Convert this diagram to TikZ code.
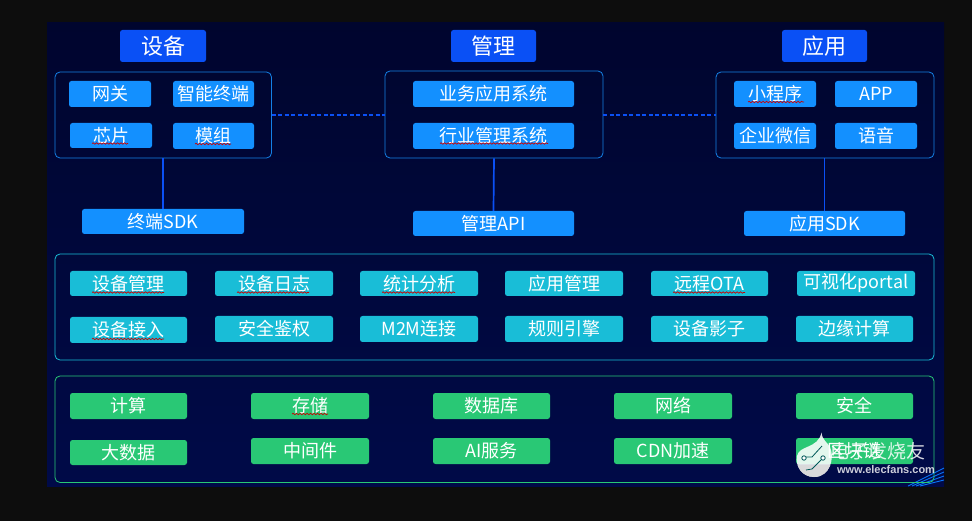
\documentclass[tikz,border=0pt]{standalone}
\usepackage{fontspec}
\setmainfont{Noto Sans CJK SC}[Scale=1]
\newfontfamily\latinf{Liberation Sans}
\usetikzlibrary{decorations.pathmorphing}
\definecolor{pagebg}{HTML}{0D0D0D}
\definecolor{paneltop}{HTML}{00052E}
\definecolor{panelbot}{HTML}{000A48}
\definecolor{headblue}{HTML}{0A50F5}
\definecolor{boxblue}{HTML}{1390FF}
\definecolor{linkblue}{HTML}{0B50F5}
\definecolor{framblue}{HTML}{1480E6}
\definecolor{boxcyan}{HTML}{19BDD7}
\definecolor{boxgreen}{HTML}{29C875}
\tikzset{
 x=1pt,y=-1pt,
 frameb/.style={draw=#1,line width=0.8pt,rounded corners=5pt,fill=none},
 cellbox/.style={rounded corners=2.5pt,text=white,font=\fontsize{18}{18}\selectfont,inner sep=0pt,anchor=center},
 headbox/.style={cellbox,fill=headblue,font=\fontsize{22}{22}\selectfont},
 bluebox/.style={cellbox,fill=boxblue},
 cyanbox/.style={cellbox,fill=boxcyan},
 greenbox/.style={cellbox,fill=boxgreen},
 solidlink/.style={draw=linkblue,line width=1.7pt},
 dashlink/.style={draw=linkblue,line width=1.1pt,dash pattern=on 4pt off 2.5pt},
 squig/.style={draw=red!80!black,line width=0.7pt,decorate,decoration={snake,amplitude=0.7pt,segment length=3.5pt}},
}
% \cellb{name}{style}{x1}{y1}{x2}{y2}{text}
\newcommand{\cellb}[7]{%
 \pgfmathsetmacro{\cxx}{(#3+#5)/2}\pgfmathsetmacro{\cyy}{(#4+#6)/2}%
 \pgfmathsetmacro{\cww}{#5-#3}\pgfmathsetmacro{\chh}{#6-#4}%
 \node[#2,minimum width=\cww pt,minimum height=\chh pt] (#1) at (\cxx,\cyy) {#7};}
\newcommand{\frameg}[6]{%
 \pgfmathsetmacro{\cxx}{(#3+#5)/2}\pgfmathsetmacro{\cyy}{(#4+#6)/2}%
 \pgfmathsetmacro{\cww}{#5-#3}\pgfmathsetmacro{\chh}{#6-#4}%
 \node[frameb=#2,minimum width=\cww pt,minimum height=\chh pt,inner sep=0pt] (#1) at (\cxx,\cyy) {};}
\begin{document}
\begin{tikzpicture}
\useasboundingbox (0,0) rectangle (972,521);
\fill[pagebg] (0,0) rectangle (972,521);
\shade[top color=paneltop,bottom color=panelbot] (47,23) rectangle (944,486);
% corner streaks
\begin{scope}
\clip (47,23) rectangle (944,486);
\foreach \d in {0,4,8,12}{\draw[color=linkblue!80!cyan,line width=0.9pt] (908+\d,486) -- (944,468+\d);}
\end{scope}
% frames
\frameg{devg}{framblue}{55}{72}{271.5}{158}
\frameg{mgtg}{framblue}{385}{71}{603}{158}
\frameg{appg}{framblue}{716}{72}{934}{158}
\frameg{midg}{boxcyan}{55}{254}{934}{360}
\frameg{botg}{boxgreen}{55}{376}{934}{482.5}
% headers
\cellb{h1}{headbox}{120}{30}{206}{62}{设备}
\cellb{h2}{headbox}{451}{30}{536}{62}{管理}
\cellb{h3}{headbox}{782}{30}{867}{62}{应用}
% device
\cellb{d1}{bluebox}{69}{81}{151}{107}{网关}
\cellb{d2}{bluebox}{173}{81}{254}{107}{智能终端}
\cellb{d3}{bluebox}{70}{123}{152}{148}{芯片}
\cellb{d4}{bluebox}{173}{123}{254}{149}{模组}
\cellb{dsdk}{bluebox}{82}{209}{244}{234}{终端SDK}
% management
\cellb{m1}{bluebox}{413}{81}{574}{107}{业务应用系统}
\cellb{m2}{bluebox}{413}{123}{574}{149}{行业管理系统}
\cellb{mapi}{bluebox}{413}{211}{574}{236}{管理API}
% apps
\cellb{a1}{bluebox}{734}{81}{816}{107}{小程序}
\cellb{a2}{bluebox}{835}{81}{917}{107}{APP}
\cellb{a3}{bluebox}{734}{123}{816}{149}{企业微信}
\cellb{a4}{bluebox}{835}{123}{917}{149}{语音}
\cellb{asdk}{bluebox}{744}{211}{905}{236}{应用SDK}
% connectors
\draw[solidlink] (devg.south -| dsdk.north) -- (dsdk.north);
\draw[solidlink] (mgtg.south) -- (mapi.north);
\draw[solidlink] (appg.south -| asdk.north) -- (asdk.north);
\draw[dashlink] (devg.east) -- (mgtg.west |- devg.east);
\draw[dashlink] (mgtg.east |- devg.east) -- (appg.west |- devg.east);
% middle
\cellb{c1}{cyanbox}{70}{271}{187}{296}{设备管理}
\cellb{c2}{cyanbox}{215}{271}{333}{296}{设备日志}
\cellb{c3}{cyanbox}{360}{271}{478}{296}{统计分析}
\cellb{c4}{cyanbox}{505}{271}{623}{296}{应用管理}
\cellb{c5}{cyanbox}{651}{271}{768}{296}{远程OTA}
\cellb{c6}{cyanbox}{797}{271}{915}{296}{可视化portal}
\cellb{c7}{cyanbox}{70}{317}{187}{343}{设备接入}
\cellb{c8}{cyanbox}{215}{316}{333}{342}{安全鉴权}
\cellb{c9}{cyanbox}{360}{316}{478}{342}{M2M连接}
\cellb{c10}{cyanbox}{505}{316}{623}{342}{规则引擎}
\cellb{c11}{cyanbox}{651}{316}{768}{342}{设备影子}
\cellb{c12}{cyanbox}{796}{316}{913}{342}{边缘计算}
% bottom
\cellb{g1}{greenbox}{70}{393}{187}{419}{计算}
\cellb{g2}{greenbox}{251}{393}{369}{419}{存储}
\cellb{g3}{greenbox}{433}{393}{550}{419}{数据库}
\cellb{g4}{greenbox}{614}{393}{732}{419}{网络}
\cellb{g5}{greenbox}{796}{393}{913}{419}{安全}
\cellb{g6}{greenbox}{70}{440}{187}{465}{大数据}
\cellb{g7}{greenbox}{251}{438}{369}{464}{中间件}
\cellb{g8}{greenbox}{433}{438}{550}{464}{AI服务}
\cellb{g9}{greenbox}{614}{438}{732}{464}{CDN加速}
\cellb{g10}{greenbox}{796}{438}{913}{464}{区块链}
% spell-check squiggles
\draw[squig] (92,143.5) -- (128,143.5);
\draw[squig] (195,144) -- (231,144);
\draw[squig] (440,143.5) -- (548,143.5);
\draw[squig] (748,102) -- (804,102);
\draw[squig] (92,292.5) -- (164,292.5);
\draw[squig] (237,292.5) -- (309,292.5);
\draw[squig] (382,292.5) -- (455,292.5);
\draw[squig] (673,292.5) -- (745,292.5);
\draw[squig] (92,339) -- (164,339);
\draw[squig] (292,414) -- (328,414);
% watermark
\fill[white,opacity=0.87] (821.5,432.5) .. controls (822,440) and (828,443) .. (830,447) .. controls (835,458) and (830,477) .. (814,477) .. controls (802,477) and (795,466) .. (797,456) .. controls (799,445) and (818,449) .. (821.5,432.5);
\begin{scope}
\clip (790,465) rectangle (840,480);
\fill[black!15!white,opacity=0.9] (821.5,432.5) .. controls (822,440) and (828,443) .. (830,447) .. controls (835,458) and (830,477) .. (814,477) .. controls (802,477) and (795,466) .. (797,456) .. controls (799,445) and (818,449) .. (821.5,432.5);
\end{scope}
\draw[black!30!teal,line width=0.8pt] (806,457) -- (812,457) -- (822,446) (821,460) -- (812,469) -- (806,470);
\draw[black!30!teal,line width=0.8pt,fill=white] (804,458) circle (2.2pt) (823,458) circle (2.2pt);
\node[font=\fontsize{19}{19}\selectfont,text=white,opacity=0.85,inner sep=0pt] (wm1) at (878,451) {电子发烧友};
\node[font=\latinf\bfseries\fontsize{11}{11}\selectfont,text=white,opacity=0.8,inner sep=0pt] (wm2) at (886,469.5) {www.elecfans.com};
\end{tikzpicture}
\end{document}
